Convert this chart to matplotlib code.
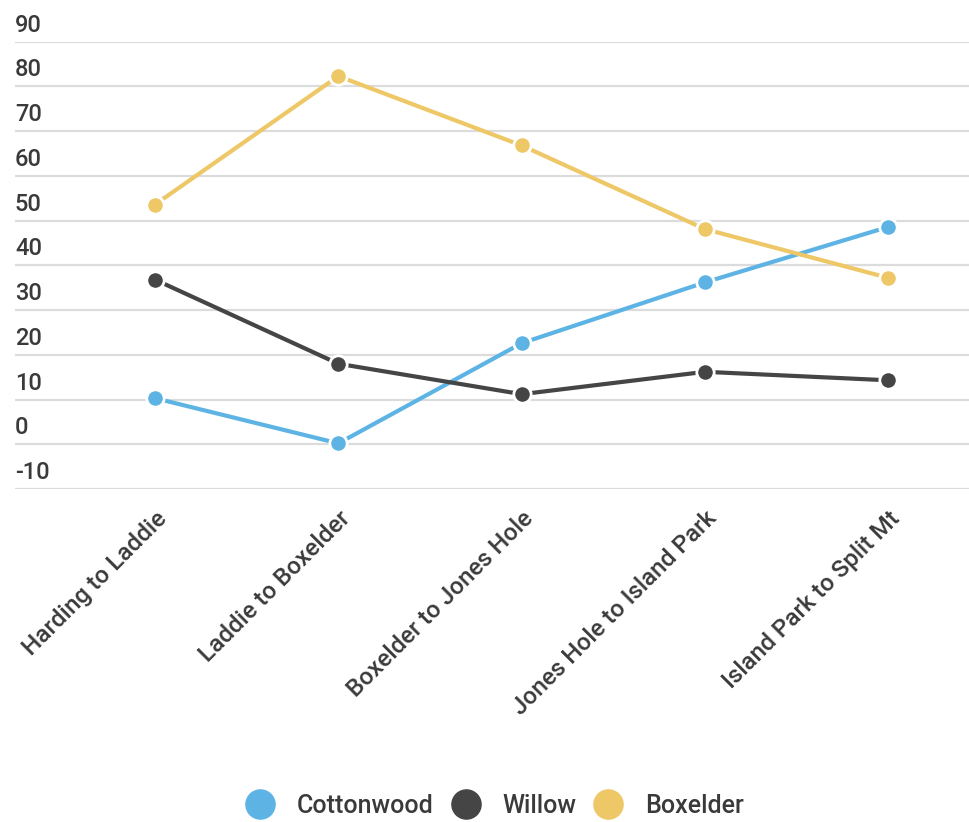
import matplotlib
matplotlib.use("Agg")
import matplotlib.pyplot as plt
from matplotlib.lines import Line2D
import matplotlib.transforms as mtransforms

plt.rcParams['font.family'] = ['Roboto', 'DejaVu Sans']

categories = ["Harding to Laddie", "Laddie to Boxelder", "Boxelder to Jones Hole",
              "Jones Hole to Island Park", "Island Park to Split Mt"]
cottonwood = [10.3, 0.2, 22.6, 36.2, 48.6]
willow = [36.8, 18.0, 11.2, 16.2, 14.3]
boxelder = [53.6, 82.3, 66.8, 48.1, 37.2]
series_names = ["Cottonwood", "Willow", "Boxelder"]
y_ticks = [-10, 0, 10, 20, 30, 40, 50, 60, 70, 80, 90]

colors = ["#5DB4E4", "#454545", "#EEC767"]
text_color = "#3a3a3a"

W, H = 969, 822
fig = plt.figure(figsize=(W / 100, H / 100), dpi=100)
ax = fig.add_axes([15 / W, 1 - 489 / H, (969 - 15) / W, (489 - 41.7) / H])

x = list(range(len(categories)))
for vals, c in zip([cottonwood, willow, boxelder], colors):
    ax.plot(x, vals, color=c, lw=3, marker='o', ms=12.5, mfc=c, mec='white',
            mew=2, zorder=3, solid_capstyle='round')

ax.set_ylim(-10, 90)
ax.set_xlim(-0.764, 4.44)
ax.set_yticks(y_ticks)
ax.yaxis.grid(True, color="#dcdcdc", lw=1.6)
ax.set_axisbelow(True)
ax.tick_params(axis='y', length=0, labelleft=False)
for s in ax.spines.values():
    s.set_visible(False)

trans = mtransforms.blended_transform_factory(ax.transAxes, ax.transData)
for v in y_ticks:
    ax.annotate(str(v), xy=(0, v), xycoords=trans, xytext=(0, 10),
                textcoords='offset pixels', ha='left', va='baseline',
                fontsize=17, color=text_color, fontweight='medium')

ax.set_xticks(x)
ax.set_xticklabels(categories, rotation=45, ha='right', rotation_mode='anchor',
                   fontsize=17.5, color=text_color, fontweight='medium')
ax.tick_params(axis='x', length=0, pad=13)

handles = [Line2D([], [], ls='none', marker='o', ms=21, mfc=c, mec=c) for c in colors]
leg = fig.legend(handles, series_names, loc='center', bbox_to_anchor=(0.505, 1 - 806 / H),
                 ncol=3, frameon=False, handletextpad=0.45,
                 columnspacing=0.3, labelcolor=text_color,
                 prop={'size': 18, 'weight': 'medium'})

fig.savefig("out.png", dpi=100, facecolor='white')
